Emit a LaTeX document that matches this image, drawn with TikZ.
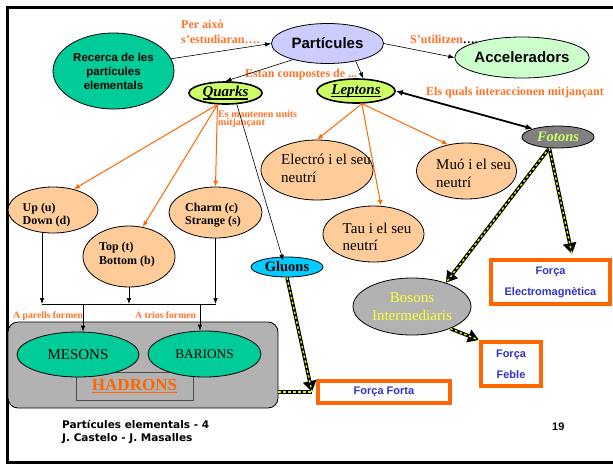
\documentclass[tikz,border=0pt]{standalone}
\usepackage{fontspec}
\setmainfont{Liberation Serif}
\setsansfont{Liberation Sans}
\newfontfamily\comicfont{DejaVu Sans}
\usetikzlibrary{shapes.geometric,arrows.meta}
\definecolor{teal1}{HTML}{00CC99}
\definecolor{lav}{HTML}{CCCCFF}
\definecolor{mint}{HTML}{CCFFCC}
\definecolor{lime}{HTML}{CCFF66}
\definecolor{peach}{HTML}{FFCC99}
\definecolor{cyan1}{HTML}{00CCFF}
\definecolor{org}{HTML}{FF6600}
\definecolor{lbl}{HTML}{FF7326}
\definecolor{fblue}{HTML}{3333CC}
\definecolor{gry}{HTML}{B2B2B2}
\definecolor{dgry}{HTML}{808080}
\definecolor{ylw}{HTML}{FFFF33}
\definecolor{dashy}{HTML}{E6F000}
\newcommand{\fsz}[2]{\fontsize{#1}{#2}\selectfont}
\newcommand{\thickul}[2][black]{\setbox0\hbox{#2}\rlap{\color{#1}\raisebox{-2.6pt}{\rule{\wd0}{1.4pt}}}\box0}
\tikzset{
  ell/.style n args={2}{ellipse, draw=black, line width=0.8pt, inner sep=0pt, minimum width=#1, minimum height=#2},
  txtA/.style={font=\fsz{15}{17.5}, align=left, inner sep=0pt},
  txtB/.style={font=\bfseries\fsz{12}{13.5}, align=left, inner sep=0pt},
  lab/.style={text=lbl, font=\bfseries\fsz{12}{15}, anchor=base west, inner sep=0pt},
  forca/.style={draw=org, line width=4pt, fill=white, font=\sffamily\bfseries\fsz{11}{21}, text=fblue, align=center, inner sep=0pt},
  tarrow/.style={draw=black, line width=0.6pt, -{Latex[length=6pt,width=4.5pt]}},
  oarrow/.style={draw=org, line width=1pt, -{Latex[length=6pt,width=5pt]}},
  bigline/.style={draw=black, line width=3.5pt, postaction={draw=dashy, line width=1.4pt, dash pattern=on 2.5pt off 2.5pt, arrows=-}},
  bigarrow/.style={bigline, -{Triangle[length=11pt,width=13pt]}}
}
\begin{document}
\begin{tikzpicture}[x=1pt,y=-1pt]
\useasboundingbox (0,0) rectangle (613,464);
\fill[white] (0,0) rectangle (613,464);
% frame
\draw[line width=3pt] (625,7) -- (7,7) -- (7,462) -- (625,462);

% hadrons group
\node[draw=black, line width=0.8pt, fill=gry, rounded corners=10pt, minimum width=270pt, minimum height=86pt, inner sep=0pt] (hadbox) at (143,365) {};
\node[draw=black!70, line width=1pt, fill=gry, minimum width=117pt, minimum height=28pt, inner sep=0pt, text=org, font=\bfseries\fsz{17}{19}] (hadrons) at (134.5,386) {\thickul[org]{HADRONS}};
\node[ell={122pt}{45pt}, fill=teal1, font=\fsz{15}{17}] (mesons) at (78,354.5) {MESONS};
\node[ell={113pt}{46pt}, fill=teal1, font=\fsz{13.3}{15}] (barions) at (204.5,354) {BARIONS};

% main ellipses
\node[ell={121pt}{76pt}, fill=teal1, font=\sffamily\bfseries\fsz{11.5}{14}, align=center] (recerca) at (113.5,71) {Recerca de les\\partícules\\elementals};
\node[ell={112pt}{40pt}, fill=lav, font=\sffamily\bfseries\fsz{15}{18}] (particules) at (327.5,43.5) {Partícules};
\node[ell={112pt}{41pt}, fill=mint, font=\sffamily\bfseries\fsz{15}{18}] (accel) at (522,57.5) {Acceleradors};
\node[ell={73pt}{22pt}, fill=lime, line width=1.6pt, font=\bfseries\itshape\fsz{15}{18}] (quarks) at (225.5,93) {\thickul{Quarks}};
\node[ell={78pt}{24pt}, fill=lime, line width=1.6pt, font=\bfseries\itshape\fsz{15}{18}] (leptons) at (356,91) {\thickul{Leptons}};
\node[ell={72pt}{22pt}, fill=dgry, text=lime, font=\bfseries\itshape\fsz{14.5}{17}] (fotons) at (558,137) {Fotons};

% leptons children
\node[ell={112pt}{60pt}, fill=peach] (electro) at (317,170) {};
\node[txtA] (electroT) at (326,168.5) {Electró i el seu\\neutrí};
\node[ell={100pt}{56pt}, fill=peach] (muo) at (466.5,171) {};
\node[txtA] (muoT) at (473.5,173.5) {Muó i el seu\\neutrí};
\node[ell={101pt}{56pt}, fill=peach] (tau) at (373.5,234) {};
\node[txtA] (tauT) at (377,237) {Tau i el seu\\neutrí};

% quark children
\node[ell={90pt}{46pt}, fill=peach] (updown) at (53,210) {};
\node[txtB] (updownT) at (46.5,215) {Up (u)\\Down (d)};
\node[ell={92pt}{61pt}, fill=peach] (topbot) at (129,256.5) {};
\node[txtB] (topbotT) at (127,254.5) {Top (t)\\Bottom (b)};
\node[ell={93pt}{51pt}, fill=peach] (charm) at (215.5,212.5) {};
\node[txtB] (charmT) at (213,215) {Charm (c)\\Strange (s)};

\node[ell={72pt}{20pt}, fill=cyan1, font=\bfseries\fsz{14.5}{17}] (gluons) at (287,267) {Gluons};
\node[ell={118pt}{57pt}, fill=gry, text=ylw, font=\fsz{15}{18}, align=center] (bosons) at (412,306.5) {Bosons\\Intermediaris};

% forces
\node[forca, minimum width=119pt, minimum height=44pt] (fem) at (550.5,282) {Força\\Electromagnètica};
\node[forca, minimum width=60pt, minimum height=44pt] (feble) at (511,364) {Força\\Feble};
\node[forca, minimum width=132pt, minimum height=22pt] (forta) at (384,392) {Força Forta};

% labels
\node[lab] (lab1a) at (181,28) {Per això};
\node[lab] (lab1b) at (181,43) {s’estudiaran….};
\node[lab] (lab2) at (245,77) {Estan compostes de ...};
\node[lab] (lab3) at (410,43) {S’utilitzen\textcolor{black}{….}};
\node[lab] (lab4) at (426,95) {Els quals interaccionen mitjançant};
\node[lab, font=\bfseries\fsz{10}{11}] (lab5a) at (218,117) {Es mantenen units};
\node[lab, font=\bfseries\fsz{10}{11}] (lab5b) at (218,125.5) {mitjançant};
\node[lab, font=\bfseries\fsz{9.7}{11}] (lab6) at (13,318) {A parells formen};
\node[lab, font=\bfseries\fsz{9.7}{11}] (lab7) at (135,318) {A trios formen};

% footer
\node[font=\comicfont\bfseries\fsz{10.5}{13}, anchor=base west, inner sep=0pt] (foot1) at (62,428) {Partícules elementals - 4};
\node[font=\comicfont\bfseries\fsz{10.5}{13}, anchor=base west, inner sep=0pt] (foot2) at (62,441) {J. Castelo - J. Masalles};
\node[font=\sffamily\bfseries\fsz{11}{13}, anchor=base west, inner sep=0pt] (pnum) at (552,430) {19};

% thin black connectors
\draw[tarrow] (recerca.12) -- (particules.west);
\draw[tarrow] (particules.205) -- (quarks.north);
\draw[tarrow] (particules.-32) -- (leptons.60);
\draw[tarrow] (particules.east) -- (accel.west);
\draw[draw=black, line width=1.8pt, {Latex[length=7pt,width=6pt]}-{Latex[length=7pt,width=6pt]}] (leptons.east) -- (fotons.162);
\draw[tarrow] (quarks.-45) -- ([yshift=-4pt]gluons.110);

% orange connectors
\draw[oarrow] (quarks.235) -- (updown.45);
\draw[oarrow] (quarks.235) -- (topbot.65);
\draw[oarrow] (quarks.235) -- (charm.north);
\draw[oarrow] (leptons.-65) -- (electro.north);
\draw[oarrow] (leptons.-65) -- (tau.75);
\draw[oarrow] (leptons.-65) -- (muo.125);

% bus
\coordinate (b1) at (42,304);
\coordinate (b2) at (129,304);
\coordinate (b3) at (215.5,304);
\coordinate (m1) at (83,304);
\coordinate (m2) at (200,304);
\draw[tarrow] (updown.south -| b1) -- (b1);
\draw[tarrow] (topbot.south) -- (b2);
\draw[tarrow] (charm.south) -- (b3);
\draw[draw=black, line width=0.6pt] (b1) -- (b3);
\draw[tarrow] (m1) -- (mesons.north -| m1);
\draw[tarrow] (m2) -- (barions.north -| m2);

% thick dashed arrows
\coordinate (emtip) at (572,254);
\draw[bigarrow] (fotons.232) -- (bosons.35);
\draw[bigarrow] (fotons.232) -- (emtip);
\draw[bigarrow] (bosons.-30) -- (feble.north west);
\draw[bigline] (hadbox.east |- forta.west) -- ([xshift=-4pt]forta.west);
\draw[bigarrow] (gluons.south) -- ([xshift=-4pt]forta.west);
\end{tikzpicture}
\end{document}
